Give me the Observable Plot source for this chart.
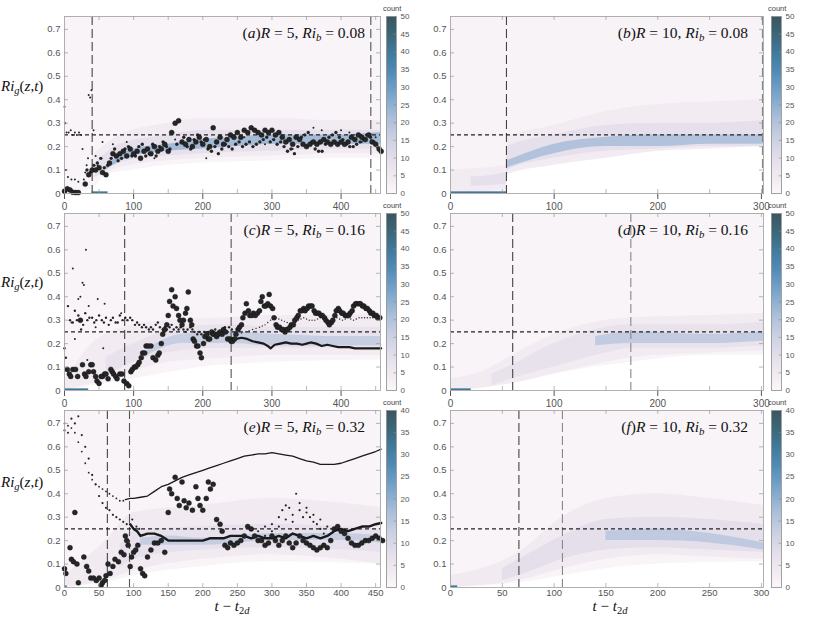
<!DOCTYPE html>
<html><head><meta charset="utf-8">
<script src="https://cdn.jsdelivr.net/npm/d3@7"></script>
<script src="https://cdn.jsdelivr.net/npm/@observablehq/plot@0.6"></script>
<style>
body{margin:0;background:#fff;}
#root{position:relative;width:830px;height:617px;overflow:hidden;font-family:"Liberation Sans",Arial,sans-serif;}
.ttl{font-family:"Liberation Serif",serif;font-size:15.5px;white-space:nowrap;color:#111;line-height:1;}
.ttl sub{font-size:70%;vertical-align:-0.25em;line-height:0;}
.ylab{font-family:"Liberation Serif",serif;font-size:15px;white-space:nowrap;color:#111;line-height:1;}
.ylab sub{font-size:70%;vertical-align:-0.3em;line-height:0;}
.xlab{font-family:"Liberation Serif",serif;font-size:15px;white-space:nowrap;color:#111;line-height:1;}
.xlab sub{font-size:70%;vertical-align:-0.25em;line-height:0;}
.cnt{font-size:7.5px;color:#444;}
</style></head><body><div id="root"></div>
<script>
// ---------- shared ticks / scales ----------
const Y_MAX = 0.755;
const yTicks = [0,0.1,0.2,0.3,0.4,0.5,0.6,0.7];
const xTicksL = [0,50,100,150,200,250,300,350,400,450];
const xTicksR = [0,50,100,150,200,250,300];
const cbTicks50 = [0,5,10,15,20,25,30,35,40,45,50];
const cbTicks40 = [0,5,10,15,20,25,30,35,40];
const cmapStops = ["#fbf7f9","#f0e9f0","#e2deea","#ccd1e3","#b2c2dc","#8fb0d1","#6a9cc5","#4d89b3","#40789a","#3c6677","#3a5560"];

// ---------- heat-map bands: [t, lo, hi] ----------
const aOuter = [[0,0.0],[40,0.02],[60,0.08],[100,0.10],[150,0.12],[200,0.13],[300,0.14],[400,0.15],[457,0.15]];
const aMid   = [[40,0.06,0.16],[80,0.11,0.25],[150,0.14,0.30],[200,0.15,0.32],[300,0.16,0.32],[400,0.17,0.31],[457,0.17,0.31]];
const aInner = [[45,0.07,0.13],[80,0.13,0.21],[150,0.16,0.25],[200,0.17,0.27],[300,0.18,0.27],[400,0.19,0.27],[457,0.19,0.27]];
const aCore  = [[60,0.10,0.12],[100,0.16,0.19],[150,0.18,0.21],[200,0.19,0.23],[250,0.20,0.24],[300,0.21,0.25],[400,0.21,0.25],[457,0.21,0.26]];
const aLevels = [1.2, 4, 9, 22];
const aBase = [40, 63];

const bOuter = [[0,0.0],[54,0.0],[55,0.08],[100,0.12],[150,0.16],[200,0.19],[250,0.20],[302,0.20]];
const bMid   = [[0,0.0,0.10],[54,0.02,0.12],[55,0.08,0.24],[100,0.12,0.29],[150,0.15,0.35],[200,0.18,0.38],[250,0.19,0.39],[302,0.20,0.40]];
const bInner = [[20,0.03,0.07],[54,0.04,0.09],[55,0.10,0.20],[100,0.15,0.25],[150,0.18,0.29],[200,0.19,0.30],[250,0.20,0.30],[302,0.20,0.31]];
const bCore  = [[55,0.11,0.14],[100,0.17,0.21],[150,0.20,0.24],[200,0.20,0.25],[250,0.21,0.25],[302,0.21,0.25]];
const bLevels = [1.4, 4, 9, 20];
const bBase = [0, 54];

const cOuter = [[0,0.0],[100,0.05],[200,0.10],[300,0.12],[457,0.13]];
const cMidB  = [[0,0.0,0.04],[40,0.03,0.20],[87,0.07,0.27],[150,0.12,0.30],[241,0.14,0.31],[300,0.15,0.32],[400,0.15,0.32],[457,0.15,0.33]];
const cInner = [[60,0.06,0.14],[100,0.12,0.20],[170,0.17,0.27],[241,0.18,0.28],[300,0.18,0.27],[457,0.18,0.27]];
const cCore  = [[120,0.15,0.18],[170,0.20,0.24],[241,0.20,0.25],[300,0.19,0.24],[400,0.19,0.23],[457,0.19,0.23]];
const cLevels = [1.2, 4, 8, 16];
const cBase = [0, 35];

const dOuter = [[0,0.0],[60,0.03],[100,0.07],[174,0.12],[250,0.15],[302,0.15]];
const dMid   = [[0,0.0,0.05],[30,0.01,0.08],[60,0.03,0.15],[100,0.07,0.24],[150,0.12,0.30],[174,0.14,0.31],[250,0.16,0.32],[302,0.17,0.33]];
const dInner = [[40,0.02,0.07],[60,0.05,0.11],[100,0.10,0.20],[150,0.16,0.27],[174,0.18,0.28],[250,0.18,0.28],[302,0.19,0.29]];
const dCore  = [[140,0.19,0.23],[174,0.20,0.25],[250,0.20,0.24],[302,0.21,0.25]];
const dLevels = [1.2, 4, 8, 17];
const dBase = [0, 20];

const eOuter = [[0,0.0],[60,0.02],[100,0.05],[200,0.09],[300,0.11],[457,0.10]];
const eMid   = [[0,0.0,0.05],[60,0.03,0.20],[100,0.07,0.32],[200,0.12,0.35],[300,0.14,0.38],[400,0.12,0.36],[457,0.10,0.34]];
const eInner = [[80,0.08,0.18],[100,0.12,0.24],[200,0.16,0.26],[300,0.17,0.27],[400,0.16,0.26],[457,0.15,0.25]];
const eCore  = [[110,0.18,0.21],[150,0.18,0.22],[200,0.18,0.21],[300,0.20,0.23],[400,0.20,0.23],[457,0.19,0.22]];
const eLevels = [1.0, 3.5, 7, 13];
const eBase = [0, 4];

const fOuter = [[0,0.0],[66,0.02],[108,0.05],[150,0.08],[200,0.10],[302,0.11]];
const fMid   = [[0,0.0,0.05],[66,0.03,0.15],[108,0.08,0.30],[150,0.12,0.38],[200,0.14,0.40],[250,0.13,0.38],[302,0.12,0.35]];
const fInner = [[50,0.03,0.08],[66,0.05,0.12],[108,0.12,0.22],[150,0.16,0.29],[200,0.17,0.30],[250,0.16,0.29],[302,0.15,0.27]];
const fCore  = [[150,0.20,0.24],[200,0.20,0.25],[250,0.19,0.23],[302,0.16,0.19]];
const fLevels = [1.0, 3.5, 7.5, 14];
const fBase = [0, 7];

// ---------- dashed time markers ----------
const aDash = [40, 443], bDash = [54, 301], cDash = [87, 241], dDash = [60, 174], eDash = [62, 94], fDash = [66, 108];

// ---------- point series (t, Ri_g) ----------
const aBig = [[0,0.01],[4,0.02],[8,0.015],[12,0.005],[16,0.004],[20,0.004],[30,0.04],[35,0.08],[40,0.10],[45,0.10],[50,0.11],[55,0.09],[60,0.08],[65,0.13],[70,0.17],[75,0.16],[80,0.17],[85,0.18],[90,0.16],[95,0.19],[100,0.17],[105,0.18],[110,0.15],[115,0.18],[120,0.19],[125,0.17],[130,0.20],[135,0.18],[140,0.19],[145,0.21],[150,0.18],[155,0.26],[160,0.30],[165,0.31],[170,0.22],[175,0.21],[180,0.23],[185,0.20],[190,0.22],[195,0.24],[200,0.21],[205,0.23],[210,0.20],[215,0.28],[220,0.22],[225,0.24],[230,0.21],[235,0.23],[240,0.25],[245,0.24],[250,0.26],[255,0.24],[260,0.27],[265,0.26],[270,0.28],[275,0.27],[280,0.26],[285,0.25],[290,0.27],[295,0.26],[300,0.27],[305,0.25],[310,0.26],[315,0.24],[320,0.22],[325,0.23],[330,0.21],[335,0.24],[340,0.23],[345,0.21],[350,0.20],[355,0.21],[360,0.22],[365,0.21],[370,0.22],[375,0.23],[380,0.22],[385,0.21],[390,0.22],[395,0.21],[400,0.22],[405,0.21],[410,0.22],[415,0.24],[420,0.23],[425,0.25],[430,0.24],[435,0.23],[440,0.25],[445,0.22],[450,0.21],[455,0.19],[458,0.18]];
const aMidPts = [[32.5,0.10],[37.5,0.09],[42.5,0.12],[47.5,0.13],[52.5,0.15],[57.5,0.11],[62.5,0.12],[67.5,0.15],[72.5,0.19],[77.5,0.14],[82.5,0.15],[87.5,0.19],[92.5,0.20],[97.5,0.16],[102.5,0.16],[107.5,0.20],[112.5,0.21],[117.5,0.16],[122.5,0.17],[127.5,0.21],[132.5,0.16],[137.5,0.20],[142.5,0.22],[147.5,0.20],[152.5,0.19],[162.5,0.21],[172.5,0.24],[177.5,0.20],[182.5,0.19],[187.5,0.23],[192.5,0.25],[197.5,0.22],[202.5,0.23],[207.5,0.19],[212.5,0.18],[217.5,0.20],[222.5,0.17],[227.5,0.19],[232.5,0.21],[237.5,0.20],[242.5,0.19],[247.5,0.21],[252.5,0.22],[257.5,0.20],[262.5,0.21],[267.5,0.22],[272.5,0.20],[277.5,0.21],[282.5,0.22],[287.5,0.23],[292.5,0.24],[297.5,0.22],[302.5,0.23],[307.5,0.21],[312.5,0.22],[317.5,0.20],[322.5,0.18],[327.5,0.19],[332.5,0.17],[337.5,0.20],[342.5,0.24],[347.5,0.25],[352.5,0.26],[357.5,0.22],[362.5,0.19],[367.5,0.18],[372.5,0.18],[377.5,0.21],[382.5,0.24],[387.5,0.25],[392.5,0.26],[397.5,0.24],[402.5,0.23],[407.5,0.21],[412.5,0.20],[417.5,0.20],[422.5,0.21],[427.5,0.22],[432.5,0.23],[437.5,0.25],[442.5,0.24],[447.5,0.22],[452.5,0.20]];
const aSmall = [[0,0.37],[1,0.30],[3,0.26],[6,0.26],[9,0.27],[12,0.25],[15,0.26],[18,0.25],[21,0.26],[24,0.25],[2,0.10],[5,0.07],[10,0.06],[15,0.06],[20,0.05],[26,0.19],[28,0.06],[30,0.09],[32,0.12],[34,0.15],[35,0.42],[37,0.41],[39,0.44],[42,0.27],[45,0.16],[48,0.12],[55,0.22],[70,0.21],[90,0.22],[130,0.15],[160,0.23],[205,0.15],[260,0.24],[290,0.21],[330,0.19],[360,0.28],[372,0.27],[400,0.27],[412,0.26],[430,0.22],[450,0.24]];

const cBig = [[4,0.09],[7,0.07],[9,0.06],[12,0.09],[16,0.09],[19,0.06],[23,0.30],[26,0.11],[29,0.07],[31,0.06],[35,0.08],[38,0.11],[40,0.11],[42,0.08],[45,0.06],[47,0.04],[50,0.03],[53,0.06],[55,0.06],[58,0.07],[60,0.07],[63,0.05],[67,0.09],[69,0.08],[71,0.07],[74,0.06],[76,0.05],[80,0.07],[83,0.07],[86,0.04],[90,0.03],[93,0.02],[96,0.08],[98,0.09],[101,0.10],[103,0.10],[106,0.11],[108,0.12],[111,0.14],[113,0.16],[116,0.16],[118,0.19],[121,0.19],[125,0.19],[128,0.14],[132,0.13],[135,0.15],[137,0.16],[140,0.20],[142,0.24],[145,0.26],[148,0.28],[150,0.32],[152,0.38],[155,0.43],[157,0.36],[160,0.40],[162,0.35],[165,0.32],[167,0.30],[170,0.28],[172,0.30],[175,0.33],[177,0.35],[179,0.42],[182,0.30],[184,0.28],[186,0.22],[188,0.21],[191,0.19],[193,0.19],[196,0.16],[198,0.14],[201,0.20],[203,0.23],[206,0.24],[208,0.22],[210,0.22],[213,0.25],[215,0.24],[218,0.24],[220,0.23],[222,0.24],[225,0.25],[228,0.24],[230,0.26],[233,0.25],[236,0.22],[239,0.22],[241,0.21],[243,0.21],[246,0.22],[248,0.24],[251,0.26],[253,0.27],[256,0.28],[258,0.31],[261,0.33],[263,0.37],[266,0.34],[268,0.32],[271,0.32],[273,0.33],[276,0.32],[279,0.33],[282,0.34],[284,0.38],[286,0.40],[289,0.36],[291,0.36],[294,0.37],[296,0.41],[298,0.36],[301,0.35],[303,0.31],[306,0.28],[308,0.27],[311,0.27],[314,0.26],[316,0.26],[319,0.25],[321,0.26],[323,0.26],[326,0.27],[328,0.28],[331,0.28],[333,0.30],[336,0.31],[338,0.32],[341,0.34],[343,0.34],[346,0.35],[348,0.34],[351,0.35],[353,0.36],[356,0.36],[358,0.36],[361,0.34],[363,0.33],[366,0.33],[368,0.33],[371,0.32],[373,0.32],[376,0.31],[378,0.30],[381,0.29],[383,0.28],[386,0.29],[388,0.30],[391,0.32],[393,0.34],[396,0.35],[398,0.34],[401,0.33],[403,0.33],[406,0.32],[408,0.32],[411,0.32],[413,0.33],[416,0.34],[418,0.36],[421,0.37],[423,0.37],[426,0.37],[428,0.37],[431,0.36],[433,0.36],[436,0.35],[438,0.35],[441,0.34],[443,0.33],[446,0.33],[448,0.32],[451,0.32],[453,0.31],[456,0.31]];
const cMidPts = [[0,0.18],[2,0.14],[5,0.36],[8,0.30],[12,0.29],[15,0.34],[18,0.30],[20,0.32],[24,0.26],[27,0.28],[30,0.33],[33,0.30],[36,0.31],[40,0.31],[43,0.29],[46,0.30],[50,0.32],[54,0.30],[57,0.29],[60,0.31],[64,0.28],[67,0.30],[70,0.31],[74,0.29],[77,0.29],[80,0.32],[84,0.30],[88,0.31],[91,0.30],[95,0.31],[98,0.30],[102,0.28],[105,0.29],[108,0.28],[112,0.27],[115,0.28],[118,0.27],[122,0.26],[125,0.27],[128,0.26],[132,0.28],[135,0.29],[138,0.27],[142,0.26],[145,0.27],[148,0.26],[152,0.27],[155,0.28],[158,0.26],[162,0.27],[165,0.26],[168,0.27],[172,0.26],[175,0.25],[178,0.26],[182,0.27],[185,0.26],[188,0.25],[192,0.24],[195,0.25],[198,0.24],[202,0.25],[205,0.24],[208,0.25],[212,0.24],[215,0.25],[218,0.26],[222,0.25],[225,0.24],[228,0.26],[232,0.27],[235,0.25],[238,0.27],[242,0.26]];
const cSmall = [[12,0.52],[20,0.39],[26,0.46],[28,0.45],[31,0.60],[23,0.40],[35,0.36],[48,0.39],[58,0.37],[82,0.33],[10,0.29],[15,0.22],[33,0.13],[45,0.27],[56,0.18]];
const cLow = [[240,0.225],[248,0.22],[256,0.225],[264,0.22],[272,0.21],[280,0.205],[288,0.20],[294,0.19],[298,0.18],[304,0.195],[312,0.20],[320,0.205],[328,0.20],[336,0.20],[344,0.195],[350,0.20],[356,0.205],[364,0.20],[372,0.19],[380,0.195],[388,0.19],[396,0.185],[404,0.185],[412,0.185],[420,0.18],[428,0.18],[436,0.18],[444,0.18],[452,0.18],[458,0.18]];
const cUp = [[250,0.24],[256,0.245],[262,0.25],[267,0.255],[272,0.26],[277,0.265],[282,0.27],[286,0.275],[290,0.28],[294,0.29],[298,0.30],[302,0.305],[306,0.31],[310,0.305],[314,0.30],[318,0.295],[322,0.29],[326,0.285],[330,0.28],[334,0.29],[338,0.30],[342,0.305],[346,0.31],[350,0.305],[354,0.30],[358,0.30],[362,0.30],[366,0.305],[370,0.31],[374,0.305],[378,0.30],[382,0.30],[386,0.30],[390,0.305],[394,0.31],[398,0.305],[402,0.30],[406,0.305],[410,0.31],[414,0.305],[418,0.30],[422,0.305],[426,0.31],[430,0.31],[434,0.31],[438,0.31],[442,0.31],[446,0.31],[450,0.31],[454,0.31],[458,0.31]];

const eBig = [[0,0.08],[2,0.06],[8,0.17],[10,0.12],[13,0.11],[15,0.32],[18,0.10],[20,0.02],[28,0.13],[32,0.09],[35,0.07],[38,0.04],[42,0.04],[46,0.03],[50,0.04],[53,0.01],[55,0.02],[58,0.03],[60,0.05],[63,0.10],[66,0.06],[70,0.09],[73,0.12],[78,0.11],[82,0.15],[86,0.14],[88,0.22],[90,0.20],[92,0.18],[95,0.09],[97,0.13],[100,0.15],[103,0.16],[106,0.18],[110,0.08],[113,0.06],[116,0.05],[120,0.13],[125,0.16],[130,0.19],[135,0.19],[140,0.20],[145,0.15],[150,0.32],[152,0.42],[155,0.40],[160,0.47],[163,0.38],[166,0.35],[170,0.45],[173,0.37],[176,0.34],[180,0.36],[185,0.33],[190,0.43],[193,0.38],[196,0.35],[200,0.33],[205,0.38],[208,0.45],[211,0.42],[215,0.44],[220,0.29],[225,0.27],[228,0.24],[232,0.18],[236,0.17],[240,0.19],[245,0.18],[250,0.19],[255,0.20],[260,0.22],[265,0.26],[270,0.25],[275,0.22],[280,0.20],[285,0.20],[290,0.18],[295,0.19],[300,0.22],[305,0.20],[310,0.18],[315,0.20],[320,0.22],[325,0.19],[330,0.17],[335,0.19],[340,0.22],[345,0.20],[350,0.19],[355,0.18],[360,0.17],[365,0.16],[370,0.17],[375,0.18],[380,0.17],[385,0.20],[390,0.25],[395,0.26],[400,0.24],[405,0.23],[410,0.21],[415,0.19],[420,0.18],[425,0.18],[430,0.19],[435,0.20],[440,0.20],[445,0.21],[450,0.22],[455,0.21],[460,0.20]];
const eTrail1 = [[0,0.70],[5,0.69],[10,0.68],[15,0.66],[20,0.62],[25,0.58],[30,0.53],[35,0.49],[40,0.46],[45,0.44],[50,0.43],[55,0.42],[60,0.41],[65,0.40],[70,0.39],[75,0.38],[80,0.37],[85,0.37]];
const eTrail2 = [[0,0.67],[5,0.66],[10,0.72],[15,0.70],[20,0.73],[25,0.65],[30,0.60],[35,0.55],[40,0.48],[45,0.44],[50,0.39],[55,0.36],[60,0.34],[65,0.33],[70,0.31],[75,0.30],[80,0.29],[85,0.28],[90,0.27],[98,0.29],[104,0.26],[108,0.25]];
const eBump = [[280,0.24],[290,0.26],[300,0.27],[310,0.30],[315,0.33],[320,0.35],[325,0.34],[330,0.31],[335,0.40],[340,0.33],[345,0.30],[350,0.32],[355,0.30],[360,0.28],[365,0.27],[370,0.25],[375,0.23],[290,0.22],[300,0.24],[310,0.26],[320,0.29],[330,0.28],[340,0.36],[350,0.34],[360,0.31],[370,0.29],[380,0.26]];
const eTop = [[88,0.375],[95,0.38],[100,0.38],[110,0.385],[120,0.39],[130,0.41],[140,0.43],[150,0.44],[160,0.455],[170,0.47],[180,0.48],[190,0.49],[200,0.50],[210,0.51],[220,0.52],[230,0.53],[240,0.54],[250,0.55],[260,0.56],[270,0.565],[280,0.57],[290,0.57],[300,0.575],[310,0.57],[320,0.565],[330,0.56],[340,0.55],[350,0.54],[360,0.535],[370,0.525],[380,0.525],[390,0.525],[400,0.53],[410,0.54],[420,0.55],[430,0.56],[440,0.57],[450,0.58],[458,0.59]];
const eLow = [[95,0.27],[100,0.25],[105,0.24],[110,0.22],[120,0.23],[130,0.23],[140,0.22],[145,0.21],[150,0.20],[160,0.20],[170,0.20],[180,0.20],[190,0.20],[200,0.20],[210,0.21],[220,0.21],[230,0.21],[240,0.22],[250,0.22],[260,0.22],[270,0.21],[280,0.22],[290,0.21],[300,0.21],[310,0.22],[320,0.21],[330,0.23],[340,0.22],[350,0.21],[360,0.22],[370,0.21],[380,0.22],[390,0.24],[400,0.25],[410,0.24],[420,0.25],[430,0.26],[440,0.26],[450,0.27],[458,0.275]];

// ---------- layout ----------
const root = document.getElementById("root");
const ML = 30;
const colLeft = [64, 450], colW = [316, 313], colXmax = [457, 302];
const rowTop = [16, 213, 409.5], PH = 177;
const cbLeft = [386, 771];
const interp = d3.piecewise(d3.interpolateRgb, cmapStops);
const fmtY = d => d === 0 ? "0" : d.toFixed(1);
const FONT = "'Liberation Sans', Arial, sans-serif";

function place(el, left, top) {
  el.style.position = "absolute"; el.style.left = left + "px"; el.style.top = top + "px";
  root.appendChild(el);
}

function panel(p) {
  const xmax = colXmax[p.col], w = colW[p.col];
  const bottom = p.row === 2;
  const color = {type: "linear", domain: [0, p.cmax], interpolate: interp};
  const tx = xmax * 4 / w, ty = Y_MAX * 4 / PH;
  const X = d => d[0], Y = d => d[1];
  const band = (data, lvl, hi) => Plot.areaY(data, {x: X, y1: Y, y2: hi || (d => d[2]), fill: () => lvl, curve: "monotone-x", clip: true});
  const marks = [
    band(p.outer, p.levels[0], () => Y_MAX),
    band(p.mid, p.levels[1]),
    band(p.inner, p.levels[2]),
    band(p.core, p.levels[3]),
    Plot.rect([p.base], {x1: d => d[0], x2: d => d[1], y1: 0, y2: 0.007, fill: () => p.cmax * 0.8}),
    Plot.ruleX(p.dash.slice(0,1), {stroke: "#444", strokeWidth: 1.1, strokeDasharray: "9,4"}),
    Plot.ruleX(p.dash.slice(1), {stroke: p.col === 1 ? "#888" : "#555", strokeWidth: 1.1, strokeDasharray: "9,4"}),
    Plot.ruleY([0.25], {stroke: "#222", strokeWidth: 1.3, strokeDasharray: "4,3"})
  ];
  for (const s of (p.lines || [])) marks.push(Plot.line(s.data, {x: X, y: Y, stroke: "#1a1a1a", strokeWidth: s.w}));
  for (const s of (p.dots || [])) marks.push(Plot.dot(s.data, {x: X, y: Y, r: s.r, fill: "#262626", stroke: s.r > 2 ? "#111" : "none", strokeWidth: 0.4}));
  marks.push(
    Plot.frame({stroke: "#a8a8a8", strokeWidth: 0.9}),
    Plot.ruleY(yTicks.slice(1), {x1: 0, x2: tx, stroke: "#999", strokeWidth: 0.7}),
    Plot.ruleY(yTicks.slice(1), {x1: xmax - tx, x2: xmax, stroke: "#999", strokeWidth: 0.7}),
    Plot.ruleX(p.xTicks.slice(1), {y1: 0, y2: ty, stroke: "#999", strokeWidth: 0.7}),
    Plot.ruleX(p.xTicks.slice(1), {y1: Y_MAX - ty, y2: Y_MAX, stroke: "#999", strokeWidth: 0.7}),
    Plot.axisY(yTicks, {tickSize: 0, tickPadding: 4, tickFormat: fmtY, label: null, fontSize: 9.5})
  );
  if (bottom) marks.push(Plot.axisX(p.xTicks, {tickSize: 0, tickPadding: 2, label: null, fontSize: 9.5}));
  const svg = Plot.plot({
    width: ML + w + 1, height: PH + 1 + (bottom ? 12 : 1),
    marginLeft: ML, marginRight: 1, marginTop: 1, marginBottom: bottom ? 12 : 1,
    x: {domain: [0, xmax]}, y: {domain: [0, Y_MAX]}, color,
    style: {fontFamily: FONT, color: "#555", background: "transparent", overflow: "visible"},
    marks
  });
  place(svg, colLeft[p.col] - ML, rowTop[p.row] - 1);

  // colorbar
  const step = p.cmax / 120;
  const cbSteps = d3.range(0, p.cmax - step / 2, step);
  const cb = Plot.plot({
    width: 10 + 22, height: PH + 2, marginLeft: 0, marginRight: 22, marginTop: 1, marginBottom: 1,
    x: {domain: [0, 1], axis: null}, y: {domain: [0, p.cmax], axis: null}, color,
    style: {fontFamily: FONT, color: "#555", background: "transparent", overflow: "visible"},
    marks: [
      Plot.rect(cbSteps, {x1: 0, x2: 1, y1: d => d, y2: d => Math.min(p.cmax, d + 2 * step), fill: d => d + step / 2, shapeRendering: "crispEdges"}),
      Plot.ruleY(p.cbTicks.slice(1, -1), {x1: 0.75, x2: 1, stroke: "#888", strokeWidth: 0.6}),
      Plot.frame({stroke: "#999", strokeWidth: 0.9}),
      Plot.axisY(p.cbTicks, {anchor: "right", tickSize: 0, tickPadding: 4, label: null, fontSize: 8})
    ]
  });
  place(cb, cbLeft[p.col], rowTop[p.row] - 1);
  const cnt = document.createElement("div");
  cnt.className = "cnt"; cnt.textContent = "count";
  place(cnt, cbLeft[p.col] - 3, rowTop[p.row] - 12);

  // title
  const t = document.createElement("div");
  t.className = "ttl";
  t.innerHTML = p.title;
  t.style.position = "absolute";
  t.style.right = (830 - (colLeft[p.col] + w - 15)) + "px";
  t.style.top = (rowTop[p.row] + 9) + "px";
  root.appendChild(t);
}

const titleHTML = (l, R, Rb) => `(<i>${l}</i>)<i>R</i> = ${R}, <i>Ri</i><sub><i>b</i></sub> = ${Rb}`;

panel({row:0, col:0, cmax:50, cbTicks:cbTicks50, xTicks:xTicksL, outer:aOuter, mid:aMid, inner:aInner, core:aCore, levels:aLevels, base:aBase, dash:aDash,
  dots:[{data:aSmall, r:1.0},{data:aMidPts, r:1.7},{data:aBig, r:2.5}], title:titleHTML("a",5,"0.08")});
panel({row:0, col:1, cmax:50, cbTicks:cbTicks50, xTicks:xTicksR, outer:bOuter, mid:bMid, inner:bInner, core:bCore, levels:bLevels, base:bBase, dash:bDash,
  title:titleHTML("b",10,"0.08")});
panel({row:1, col:0, cmax:50, cbTicks:cbTicks50, xTicks:xTicksL, outer:cOuter, mid:cMidB, inner:cInner, core:cCore, levels:cLevels, base:cBase, dash:cDash,
  lines:[{data:cLow, w:2.2}], dots:[{data:cSmall, r:1.0},{data:cUp, r:0.7},{data:cMidPts, r:1.2},{data:cBig, r:2.5}], title:titleHTML("c",5,"0.16")});
panel({row:1, col:1, cmax:50, cbTicks:cbTicks50, xTicks:xTicksR, outer:dOuter, mid:dMid, inner:dInner, core:dCore, levels:dLevels, base:dBase, dash:dDash,
  title:titleHTML("d",10,"0.16")});
panel({row:2, col:0, cmax:40, cbTicks:cbTicks40, xTicks:xTicksL, outer:eOuter, mid:eMid, inner:eInner, core:eCore, levels:eLevels, base:eBase, dash:eDash,
  lines:[{data:eTop, w:1.3},{data:eLow, w:2.4}], dots:[{data:eTrail1, r:0.9},{data:eTrail2, r:1.1},{data:eBump, r:1.1},{data:eBig, r:2.5}], title:titleHTML("e",5,"0.32")});
panel({row:2, col:1, cmax:40, cbTicks:cbTicks40, xTicks:xTicksR, outer:fOuter, mid:fMid, inner:fInner, core:fCore, levels:fLevels, base:fBase, dash:fDash,
  title:titleHTML("f",10,"0.32")});

// row labels
const rowLabelTop = [79, 275, 475];
for (const y of rowLabelTop) {
  const d = document.createElement("div");
  d.className = "ylab";
  d.innerHTML = "<i>Ri</i><sub><i>g</i></sub>(<i>z</i>,<i>t</i>)";
  place(d, 1, y);
}
// x labels
const xLabCenters = [232, 610];
for (const cx of xLabCenters) {
  const d = document.createElement("div");
  d.className = "xlab";
  d.style.width = "80px"; d.style.textAlign = "center";
  d.innerHTML = "<i>t</i> − <i>t</i><sub>2<i>d</i></sub>";
  place(d, cx - 40, 599);
}
</script></body></html>
